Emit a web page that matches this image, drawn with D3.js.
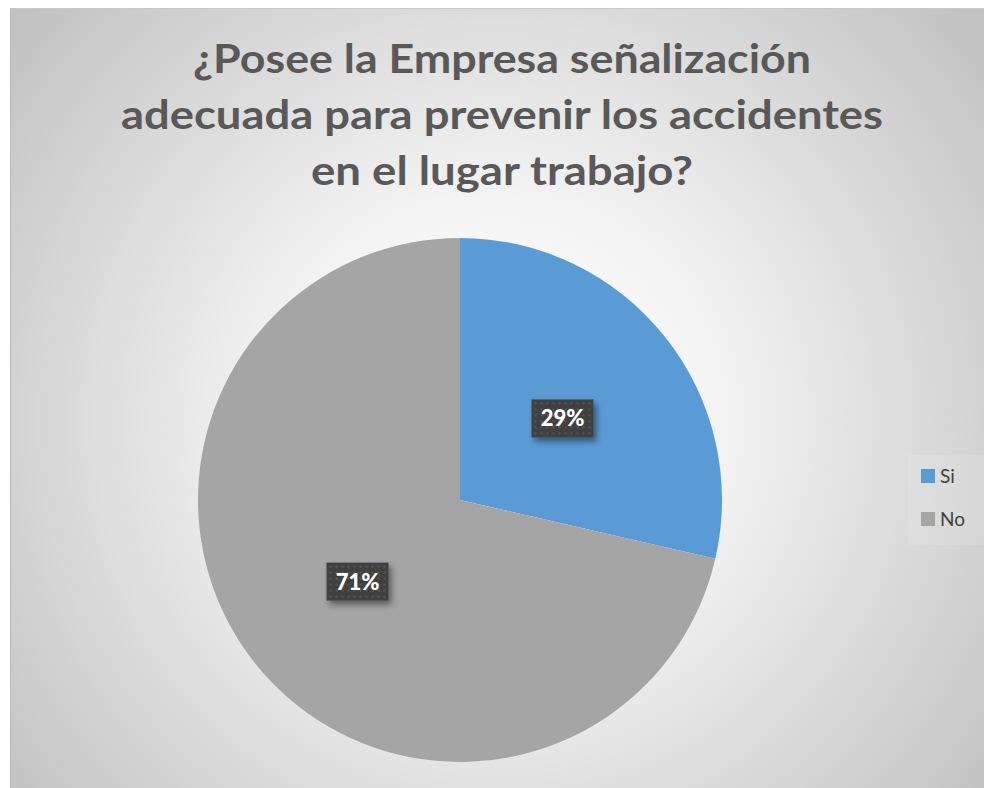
<!DOCTYPE html>
<html><head><meta charset="utf-8">
<script src="https://cdn.jsdelivr.net/npm/d3@7"></script>
<style>html,body{margin:0;padding:0;background:#fff;}svg{display:block;}</style>
</head><body>
<svg id="chart" width="984" height="788"></svg>
<script>
const titleLines = ["¿Posee la Empresa señalización", "adecuada para prevenir los accidentes", "en el lugar trabajo?"];
const categories = ["Si", "No"];
const values = [28.6, 71.4];
const colors = ["#5b9bd5", "#a5a5a5"];

const svg = d3.select("#chart");
const defs = svg.append("defs");
const rg = defs.append("radialGradient").attr("id","bg").attr("gradientUnits","userSpaceOnUse")
  .attr("cx",497).attr("cy",420).attr("r",620);
rg.append("stop").attr("offset","0%").attr("stop-color","#ffffff");
rg.append("stop").attr("offset","35%").attr("stop-color","#f4f4f4");
rg.append("stop").attr("offset","100%").attr("stop-color","#c2c2c2");

const pat = defs.append("pattern").attr("id","dots").attr("patternUnits","userSpaceOnUse").attr("width",6).attr("height",6);
pat.append("rect").attr("width",6).attr("height",6).attr("fill","#404040");
pat.append("rect").attr("x",2).attr("y",2).attr("width",2).attr("height",2).attr("fill","#565656");

const sh = defs.append("filter").attr("id","shadow").attr("x","-30%").attr("y","-30%").attr("width","160%").attr("height","170%");
sh.append("feDropShadow").attr("dx",3).attr("dy",4).attr("stdDeviation",3).attr("flood-color","#000").attr("flood-opacity",0.45);

svg.append("rect").attr("x",10).attr("y",8).attr("width",974).attr("height",780).attr("fill","url(#bg)");
svg.append("line").attr("x1",10.5).attr("x2",10.5).attr("y1",8).attr("y2",788).attr("stroke","#b8b8b8");
svg.append("line").attr("x1",10).attr("x2",984).attr("y1",8.5).attr("y2",8.5).attr("stroke","#c8c8c8");

// title
const titleW = [618, 762, 382];
const tg = svg.append("g").attr("font-family","Lato, 'Open Sans', sans-serif").attr("font-weight","bold")
  .attr("font-size",41).attr("fill","#595959").attr("text-anchor","middle");
titleLines.forEach((t,i)=>{
  tg.append("text").attr("x",502).attr("y",73+i*56).attr("textLength",titleW[i]).attr("lengthAdjust","spacingAndGlyphs").text(t);
});

// pie
const cx = 460, cy = 500, r = 262;
const pie = d3.pie().sort(null).value(d=>d);
const arcs = pie(values);
const arc = d3.arc().innerRadius(0).outerRadius(r);
const g = svg.append("g").attr("transform",`translate(${cx},${cy})`);
g.selectAll("path").data(arcs).join("path").attr("d",arc).attr("fill",(d,i)=>colors[i]);

const total = d3.sum(values);
const labelArc = d3.arc().innerRadius(r*0.5).outerRadius(r*0.5);
const bw = 62, bh = 38;
arcs.forEach((d,i)=>{
  const [lx,ly] = labelArc.centroid(d);
  const lg = g.append("g").attr("transform",`translate(${lx},${ly})`);
  lg.append("rect").attr("x",-bw/2).attr("y",-bh/2).attr("width",bw).attr("height",bh)
    .attr("fill","url(#dots)").attr("filter","url(#shadow)");
  lg.append("text").attr("text-anchor","middle").attr("dy","0.36em")
    .attr("font-family","Lato, 'Open Sans', sans-serif").attr("font-weight","900").attr("font-size",22)
    .attr("fill","#ffffff").text(Math.round(d.data/total*100)+"%");
});

// legend
const leg = svg.append("g");
leg.append("rect").attr("x",908).attr("y",455).attr("width",76).attr("height",90).attr("fill","#ffffff").attr("opacity",0.12);
categories.forEach((c,i)=>{
  const y = 476 + i*43;
  leg.append("rect").attr("x",921).attr("y",y-7).attr("width",14).attr("height",14).attr("fill",colors[i]);
  leg.append("text").attr("x",940).attr("y",y).attr("dy","0.36em").attr("font-family","Lato, 'Open Sans', sans-serif")
    .attr("font-size",19).attr("fill","#404040").text(c);
});
</script>
</body></html>
